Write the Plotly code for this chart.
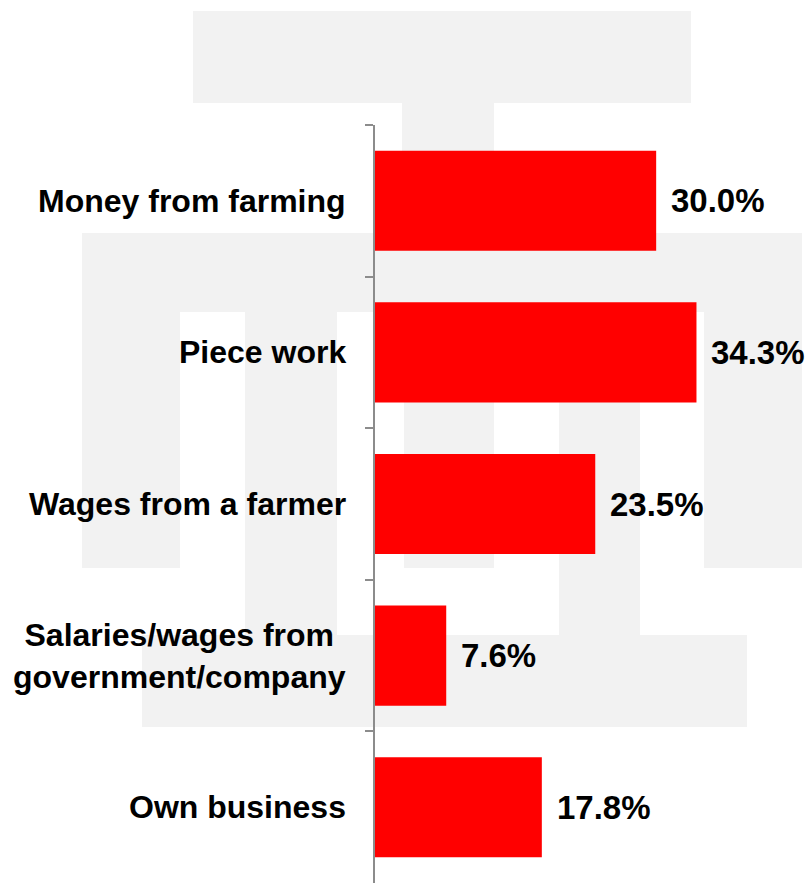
import plotly.graph_objects as go

# Income sources and share of respondents (%)
categories = [
    "Money from farming",
    "Piece work",
    "Wages from a farmer",
    "Salaries/wages from<br>government/company",
    "Own business",
]
shares = [30.0, 34.3, 23.5, 7.6, 17.8]

W, H = 808, 883
ML, MT = 375, 125
PW, PH = W - ML, H - MT
FONT = "Liberation Sans, Arial, Helvetica, sans-serif"
WM_GREY = "#f2f2f2"

fig = go.Figure(
    go.Bar(
        x=shares,
        y=categories,
        orientation="h",
        marker=dict(color="#ff0000", line=dict(width=0)),
        width=0.66,
        hoverinfo="skip",
    )
)

# light grey logo watermark behind the bars (pixel boxes -> paper coords)
watermark = [
    (193, 11, 691, 103),
    (402, 103, 494, 233),
    (82, 233, 802, 312),
    (82, 312, 180, 568),
    (245, 312, 337, 635),
    (404, 312, 494, 568),
    (559, 312, 640, 635),
    (704, 312, 802, 568),
    (142, 635, 747, 727),
]
for x0, y0, x1, y1 in watermark:
    fig.add_shape(
        type="rect",
        xref="paper", yref="paper",
        x0=(x0 - ML) / PW, x1=(x1 - ML) / PW,
        y0=(H - y0) / PH, y1=(H - y1) / PH,
        fillcolor=WM_GREY, line=dict(width=0), layer="below",
    )

# category labels, centred lines, right edge near the axis
for cat in categories:
    fig.add_annotation(
        x=0, xref="paper", y=cat, yref="y",
        text=f"<b>{cat}</b>", showarrow=False,
        xanchor="right", align="center", xshift=-27,
        font=dict(family=FONT, size=32, color="#000000"),
    )

# value labels just past the bar ends
for cat, v in zip(categories, shares):
    fig.add_annotation(
        x=v, xref="x", y=cat, yref="y",
        text=f"<b>{v:.1f}%</b>", showarrow=False,
        xanchor="left", xshift=13,
        font=dict(family=FONT, size=33, color="#000000"),
    )

fig.update_layout(
    width=W, height=H,
    margin=dict(l=ML, r=0, t=MT, b=0, pad=0),
    paper_bgcolor="#ffffff",
    plot_bgcolor="rgba(0,0,0,0)",
    showlegend=False,
    xaxis=dict(visible=False, range=[0, 46.2], fixedrange=True),
    yaxis=dict(
        type="category",
        categoryorder="array", categoryarray=categories,
        range=[len(categories) - 0.5, -0.5],
        showticklabels=False,
        showgrid=False, zeroline=False,
        showline=True, linecolor="#8c8c8c", linewidth=2,
        ticks="outside", tickson="boundaries",
        ticklen=8, tickwidth=2, tickcolor="#8c8c8c",
        fixedrange=True,
    ),
)

fig.write_html("out.html")
